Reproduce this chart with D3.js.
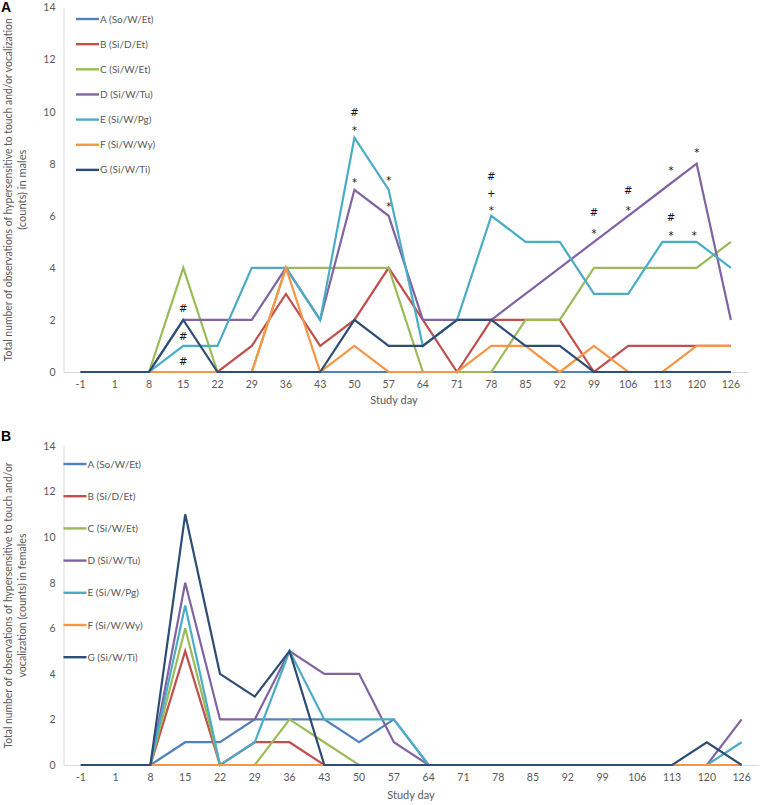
<!DOCTYPE html>
<html>
<head>
<meta charset="utf-8">
<script src="https://cdn.jsdelivr.net/npm/d3@7"></script>
<style>
  html, body { margin: 0; padding: 0; background: #fff; }
  svg { display: block; }
  text { font-family: Lato, "Open Sans", sans-serif; }
</style>
</head>
<body>
<svg id="chart" width="763" height="805"></svg>
<script>
// ---------- DATA ----------
const days = ["-1","1","8","15","22","29","36","43","50","57","64","71","78","85","92","99","106","113","120","126"];
const groupNames = ["A (So/W/Et)","B (Si/D/Et)","C (Si/W/Et)","D (Si/W/Tu)","E (Si/W/Pg)","F (Si/W/Wy)","G (Si/W/Ti)"];
const groupColors = ["#4F81BD","#C0504D","#9BBB59","#8064A2","#4BACC6","#F79646","#2C4D75"];

// Panel A: males
const maleA = [0,0,0,0,0,0,0,0,0,0,0,0,0,0,0,0,0,0,0,0];
const maleB = [0,0,0,0,0,1,3,1,2,4,2,0,2,2,2,0,1,1,1,1];
const maleC = [0,0,0,4,0,0,4,4,4,4,0,0,0,2,2,4,4,4,4,5];
const maleD = [0,0,0,2,2,2,4,2,7,6,2,2,2,3,4,5,6,7,8,2];
const maleE = [0,0,0,1,1,4,4,2,9,7,1,2,6,5,5,3,3,5,5,4];
const maleF = [0,0,0,0,0,0,4,0,1,0,0,0,1,1,0,1,0,0,1,1];
const maleG = [0,0,0,2,0,0,0,0,2,1,1,2,2,1,1,0,0,0,0,0];

// Panel B: females
const femaleA = [0,0,0,1,1,2,2,2,1,2,0,0,0,0,0,0,0,0,0,0];
const femaleB = [0,0,0,5,0,1,1,0,0,0,0,0,0,0,0,0,0,0,0,0];
const femaleC = [0,0,0,6,0,0,2,1,0,0,0,0,0,0,0,0,0,0,0,0];
const femaleD = [0,0,0,8,2,2,5,4,4,1,0,0,0,0,0,0,0,0,0,2];
const femaleE = [0,0,0,7,0,1,5,2,2,2,0,0,0,0,0,0,0,0,0,1];
const femaleF = [0,0,0,0,0,0,0,0,0,0,0,0,0,0,0,0,0,0,0,0];
const femaleG = [0,0,0,11,4,3,5,0,0,0,0,0,0,0,0,0,0,0,1,0];

const yTicks = [0,2,4,6,8,10,12,14];

// significance marks in panel A (day, level in counts, symbol)
const maleMarks = [
  {day:"15", v:2.46, t:"#"}, {day:"15", v:1.38, t:"#"}, {day:"15", v:0.42, t:"#"},
  {day:"50", v:9.96, t:"#"}, {day:"50", v:9.38, t:"*"}, {day:"50", v:7.38, t:"*"},
  {day:"57", v:7.46, t:"*"}, {day:"57", v:6.46, t:"*"},
  {day:"78", v:7.51, t:"#"}, {day:"78", v:6.88, t:"+"}, {day:"78", v:6.32, t:"*"},
  {day:"99", v:6.12, t:"#"}, {day:"99", v:5.42, t:"*"},
  {day:"106", v:7.0, t:"#"}, {day:"106", v:6.32, t:"*"},
  {day:"113", v:7.85, t:"*", s:0.25}, {day:"113", v:5.96, t:"#", s:0.25}, {day:"113", v:5.36, t:"*", s:0.25},
  {day:"120", v:8.54, t:"*"}, {day:"120", v:5.36, t:"*", s:-0.07}
];

const maleSeries = [maleA,maleB,maleC,maleD,maleE,maleF,maleG];
const femaleSeries = [femaleA,femaleB,femaleC,femaleD,femaleE,femaleF,femaleG];

// ---------- DRAW ----------
const svg = d3.select("#chart");
const grey = "#595959";

function drawPanel(cfg) {
  const g = svg.append("g");
  const x = d3.scaleBand().domain(days).range([cfg.left, cfg.right]);
  const y = d3.scaleLinear().domain([0, 14]).range([cfg.bottom, cfg.top]);
  const cx = d => x(d) + x.bandwidth() / 2;

  // y axis
  const ya = g.append("g").attr("transform", `translate(${cfg.left},0)`)
    .call(d3.axisLeft(y).tickValues(yTicks).tickSize(0).tickPadding(8));
  ya.select(".domain").attr("stroke", "#D9D9D9").attr("stroke-width", 1);
  ya.selectAll("text").attr("fill", grey).style("font-size", "10.5px").style("font-family", "Lato, sans-serif");

  // x axis
  const xa = g.append("g").attr("transform", `translate(0,${cfg.bottom})`)
    .call(d3.axisBottom(x).tickSize(0).tickPadding(9));
  xa.select(".domain").attr("stroke", "#D9D9D9").attr("stroke-width", 1);
  xa.selectAll("text").attr("fill", grey).style("font-size", "10.5px").style("font-family", "Lato, sans-serif");

  // lines
  const line = d3.line().x((v, i) => cx(days[i])).y(v => y(v));
  cfg.series.forEach((vals, k) => {
    g.append("path").datum(vals)
      .attr("d", line)
      .attr("fill", "none")
      .attr("stroke", groupColors[k])
      .attr("stroke-width", 2.2)
      .attr("stroke-linejoin", "miter");
  });

  // legend
  groupNames.forEach((name, k) => {
    const ly = cfg.legendY + k * cfg.legendStep;
    g.append("line").attr("x1", cfg.legendX).attr("x2", cfg.legendX + 23)
      .attr("y1", ly).attr("y2", ly)
      .attr("stroke", groupColors[k]).attr("stroke-width", 2.4);
    g.append("text").attr("x", cfg.legendX + 24).attr("y", ly).attr("dy", "0.35em")
      .attr("fill", grey).style("font-size", "10px").text(name);
  });

  // axis titles
  const midY = (cfg.top + cfg.bottom) / 2;
  const yt = g.append("text").attr("transform", `translate(8.5,${midY}) rotate(-90)`)
    .attr("text-anchor", "middle").attr("fill", grey).style("font-size", "10.5px");
  yt.append("tspan").attr("x", 0).attr("dy", "0.35em").attr("textLength", cfg.line1Len)
    .attr("lengthAdjust", "spacingAndGlyphs").text(cfg.ylab1);
  yt.append("tspan").attr("x", 0).attr("dy", "14").attr("textLength", cfg.line2Len)
    .attr("lengthAdjust", "spacingAndGlyphs").text(cfg.ylab2);

  g.append("text").attr("x", cfg.xlabX).attr("y", cfg.xlabY).attr("text-anchor", "middle")
    .attr("fill", grey).style("font-size", "11px").text("Study day");

  // panel letter
  g.append("text").attr("x", 1).attr("y", cfg.letterY)
    .style("font-family", "'Liberation Sans', Arial, sans-serif")
    .style("font-weight", "bold").style("font-size", "14px").attr("fill", "#000").text(cfg.letter);

  // marks
  (cfg.marks || []).forEach(m => {
    const px = cx(m.day) + (m.s || 0) * x.bandwidth();
    const py = y(m.v);
    g.append("text").attr("x", px).attr("y", m.t === "*" ? py + 6.5 : py + 3.8)
      .attr("text-anchor", "middle").attr("fill", "#111")
      .style("font-family", "'DejaVu Sans', sans-serif")
      .style("font-size", "10px").text(m.t);
  });
}

drawPanel({
  letter: "A", letterY: 12,
  left: 63.5, right: 748, top: 7.5, bottom: 372,
  series: maleSeries,
  legendX: 76, legendY: 19, legendStep: 25.15,
  ylab1: "Total number of observations of hypersensitive to touch and/or vocalization",
  ylab2: "(counts)  in males",
  line1Len: 343, line2Len: 80,
  xlabX: 394, xlabY: 404,
  marks: maleMarks
});

drawPanel({
  letter: "B", letterY: 441,
  left: 63.5, right: 759, top: 446, bottom: 765,
  series: femaleSeries,
  legendX: 63.5, legendY: 464, legendStep: 32.2,
  ylab1: "Total number of observations of hypersensitive to touch and/or",
  ylab2: "vocalization (counts)  in females",
  line1Len: 286, line2Len: 144,
  xlabX: 411, xlabY: 799,
  marks: []
});
</script>
</body>
</html>
